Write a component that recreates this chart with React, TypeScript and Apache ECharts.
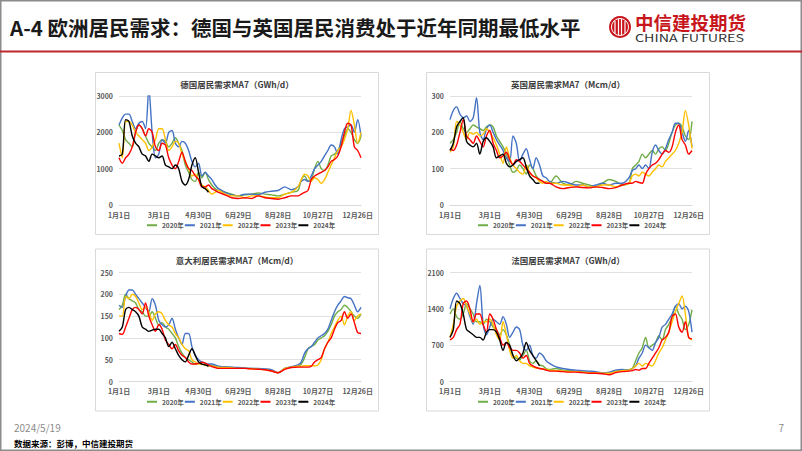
import React, { useEffect, useRef } from "react";
import * as echarts from "echarts";

const FONT = "'Noto Sans CJK SC', 'Noto Sans', sans-serif";

// sample days (index into 2020 calendar, 0 = 1月1日)
const DAYS = [0,5,10,15,20,25,30,35,40,45,50,55,60,65,70,75,80,85,90,95,100,105,110,115,120,125,130,135,140,145,150,
  160,170,180,190,200,210,220,230,240,250,260,
  270,275,280,285,290,295,300,305,310,315,320,325,330,335,340,345,350,355,360,365];

const YEARS = ["2020年", "2021年", "2022年", "2023年", "2024年"];
const COLORS = ["#70AD47", "#4472C4", "#FFC000", "#FF0000", "#000000"];

// 德国 GWh/d
const DE_2020 = [2200,2050,1800,1700,1600,2000,2200,2100,1900,1700,1600,1500,1700,1800,1750,1600,1700,1850,1700,1500,1100,900,700,650,900,750,900,700,550,450,400,
  350,300,250,280,300,330,300,280,250,300,350,
  400,700,800,650,700,1000,1200,1000,950,1100,1350,1400,1500,1700,1900,2100,2000,1800,1700,1900];
const DE_2021 = [2200,2400,2500,2500,2300,2100,2250,2300,2100,3200,2000,1300,1400,1800,1700,2000,2050,1700,1600,1750,1700,1500,1200,1050,1150,800,900,800,700,550,450,
  350,280,250,300,300,280,350,380,400,500,420,
  500,650,700,650,800,1000,1100,1200,1350,1500,1650,1600,1400,1800,2100,2150,2200,2000,2350,1900];
const DE_2022 = [1700,1300,2300,2300,2200,2000,1900,1800,1700,1500,1600,1800,2100,2100,1800,1500,1600,1750,1700,1400,1200,1000,800,850,700,550,500,400,300,350,400,
  300,250,250,200,250,250,220,200,200,300,350,
  500,700,850,800,650,750,700,600,700,900,1100,1300,1500,1600,1800,2100,2600,2200,1700,2000];
const DE_2023 = [1300,1150,1300,1400,1600,2000,2200,2100,1900,2100,2000,1600,1500,1700,1650,1300,1100,1000,1200,1450,1200,1000,950,800,700,500,500,550,450,400,350,
  280,200,180,200,180,250,200,180,160,200,250,
  250,300,350,400,700,800,850,900,950,1050,1200,1250,1350,1600,2000,2250,2200,1600,1500,1300];
const DE_2024 = [1350,1400,2350,2300,1900,1700,1600,1400,1350,1200,1400,1350,1300,1350,1100,1050,1000,1100,1000,650,550,700,1100,1300,900,500,450,350];

// 英国 Mcm/d
const UK_2020 = [170,180,200,230,210,200,210,220,215,210,205,215,220,215,190,175,160,140,110,90,95,110,100,85,110,100,80,70,65,60,60,
  80,60,55,65,60,55,50,60,70,65,55,
  60,100,110,120,140,130,140,150,140,155,160,150,170,200,220,225,215,190,180,230];
const UK_2021 = [235,260,270,250,240,245,230,240,295,200,180,210,220,200,180,165,150,130,120,190,170,120,140,155,125,100,130,110,80,75,65,
  60,65,60,55,55,50,55,60,55,60,60,
  75,95,100,110,100,110,100,145,165,150,140,155,180,200,225,225,200,175,205,160];
const UK_2022 = [145,160,230,220,200,180,200,195,200,190,195,210,200,185,165,140,115,160,130,110,100,90,85,110,90,80,75,65,60,65,60,
  60,55,55,50,55,50,50,55,55,50,55,
  60,80,85,80,90,85,80,90,100,110,105,120,130,140,150,170,200,260,220,155];
const UK_2023 = [155,150,165,200,235,190,180,170,190,175,160,190,205,170,150,130,135,145,125,110,125,120,110,100,90,80,75,70,65,60,60,
  50,45,48,50,48,47,50,48,45,48,55,
  60,60,65,62,60,85,100,110,115,125,140,150,145,160,200,220,180,165,140,150];
const UK_2024 = [150,170,215,230,240,175,165,160,170,140,175,185,175,160,130,135,140,115,105,110,120,125,130,105,80,70,60,60];

// 意大利 Mcm/d
const IT_2020 = [165,175,200,190,185,180,165,160,150,150,160,145,130,135,125,120,110,100,80,65,55,50,45,40,42,40,38,38,36,35,33,
  33,32,31,30,30,29,28,25,20,30,33,
  35,40,55,75,80,85,95,100,105,115,130,150,160,165,175,170,160,150,145,155];
const IT_2021 = [175,170,195,210,210,200,190,180,170,160,190,175,140,130,125,130,145,120,100,85,110,110,80,60,50,45,42,40,40,38,35,
  34,33,32,31,30,30,29,27,20,30,34,
  38,45,65,75,80,90,100,105,110,120,140,160,175,185,195,192,190,175,160,170];
const IT_2022 = [150,150,195,190,200,195,180,165,170,160,140,155,160,155,140,130,125,110,100,85,75,70,50,45,40,40,38,36,35,34,33,
  32,31,30,30,29,28,27,24,20,30,33,
  35,35,36,36,36,36,38,50,75,90,110,125,140,150,130,150,160,140,150,155];
const IT_2023 = [110,108,125,145,165,170,165,155,180,150,130,115,130,120,95,85,75,85,70,60,55,45,40,40,42,44,42,38,34,32,30,
  30,30,30,30,29,28,27,24,20,28,32,
  33,33,33,33,35,45,50,55,75,90,100,120,135,140,160,145,155,135,112,110];
const IT_2024 = [115,125,165,170,165,160,150,125,120,115,118,120,120,110,100,80,90,75,60,50,45,60,75,60,45,40,38,35];

// 法国 GWh/d
const FR_2020 = [1300,1400,1250,1200,1300,1500,1400,1300,1150,1150,1100,1200,1150,1050,1000,900,1000,900,700,500,450,420,500,600,400,350,400,320,300,250,230,
  250,220,210,200,190,180,170,160,170,200,210,
  230,250,400,550,650,850,650,700,750,880,800,1000,1100,1250,1450,1300,1200,1000,1100,1380];
const FR_2021 = [1400,1600,1700,1600,1500,1450,1250,1100,1500,1850,1100,900,1050,1200,1150,1100,1250,1100,850,950,1050,1000,700,600,700,500,450,550,500,400,350,
  280,250,230,220,210,200,190,170,180,220,230,
  220,250,300,450,550,700,650,600,750,850,1050,1100,1200,1300,1450,1500,1400,1450,1350,950];
const FR_2022 = [850,1100,1450,1550,1600,1450,1300,1150,1200,1100,1150,1150,1200,1100,900,800,1150,900,600,450,500,400,350,350,300,280,260,250,240,230,220,
  210,200,190,190,180,170,165,160,160,190,210,
  220,250,300,350,300,350,320,300,400,550,650,800,950,1150,1350,1500,1650,1300,850,800];
const FR_2023 = [800,850,1000,1100,1500,1550,1400,1150,1300,1300,1100,950,1300,1200,1000,850,700,750,650,600,600,550,450,500,350,300,270,250,240,220,200,
  200,190,180,180,170,160,160,150,130,170,190,
  200,210,230,220,250,250,350,450,550,650,800,850,950,1250,1300,1050,950,1150,850,820];
const FR_2024 = [850,1000,1550,1500,1300,1000,950,900,850,850,800,950,1000,1000,950,800,600,750,700,500,400,450,550,750,600,500,400,300];

// x categories: calendar of 2020 (366 days)
const DATES: string[] = [];
for (let i = 0; i < 366; i++) {
  const d = new Date(2020, 0, 1 + i);
  DATES.push(`${d.getMonth() + 1}月${d.getDate()}日`);
}

const CHARTS = [
  { title: "德国居民需求MA7（GWh/d）", max: 3000, interval: 1000, data: [DE_2020, DE_2021, DE_2022, DE_2023, DE_2024], dx: 0, dy: 0 },
  { title: "英国居民需求MA7（Mcm/d）", max: 300, interval: 100, data: [UK_2020, UK_2021, UK_2022, UK_2023, UK_2024], dx: 331, dy: 0 },
  { title: "意大利居民需求MA7（Mcm/d）", max: 250, interval: 50, data: [IT_2020, IT_2021, IT_2022, IT_2023, IT_2024], dx: 0, dy: 176.5 },
  { title: "法国居民需求MA7（GWh/d）", max: 2100, interval: 700, data: [FR_2020, FR_2021, FR_2022, FR_2023, FR_2024], dx: 331, dy: 176.5 },
];

export default function App() {
  const ref = useRef<HTMLDivElement>(null);
  useEffect(() => {
    if (!ref.current) return;
    const chart = echarts.init(ref.current, undefined, { renderer: "svg" });

    const series: any[] = [];
    CHARTS.forEach((c, i) => {
      c.data.forEach((vals, j) => {
        series.push({
          type: "line",
          name: YEARS[j],
          xAxisIndex: i,
          yAxisIndex: i,
          data: vals.map((v, k) => [DAYS[k], v]),
          smooth: 0.3,
          symbol: "none",
          showSymbol: false,
          clip: true,
          lineStyle: { color: COLORS[j], width: 1.4 },
          itemStyle: { color: COLORS[j] },
          z: 2 + j,
        });
      });
    });

    const graphics: any[] = [
      { type: "rect", shape: { x: 0.75, y: 0.75, width: 800.5, height: 449.5 }, style: { fill: "transparent", stroke: "#8c8c8c", lineWidth: 1.5 } },
      { type: "text", x: 10, y: 27, style: { text: "A-4 欧洲居民需求：德国与英国居民消费处于近年同期最低水平", font: `bold 20.5px ${FONT}`, fill: "#1a1a1a", verticalAlign: "middle" } },
      { type: "rect", shape: { x: 0, y: 50.5, width: 802, height: 2 }, style: { fill: "#c0272d" } },
      // logo
      { type: "circle", shape: { cx: 620, cy: 27, r: 11 }, style: { fill: "#c8161d" } },
      { type: "circle", shape: { cx: 620, cy: 27, r: 8.5 }, style: { fill: "transparent", stroke: "#fff", lineWidth: 1 } },
      { type: "line", shape: { x1: 615, y1: 21, x2: 615, y2: 34 }, style: { stroke: "#fff", lineWidth: 1.2 } },
      { type: "line", shape: { x1: 618.5, y1: 19, x2: 618.5, y2: 35 }, style: { stroke: "#fff", lineWidth: 1.2 } },
      { type: "line", shape: { x1: 621.5, y1: 19, x2: 621.5, y2: 35 }, style: { stroke: "#fff", lineWidth: 1.2 } },
      { type: "line", shape: { x1: 625, y1: 21, x2: 625, y2: 34 }, style: { stroke: "#fff", lineWidth: 1.2 } },
      { type: "text", x: 635, y: 21.5, style: { text: "中信建投期货", font: `bold 18.5px ${FONT}`, fill: "#c8161d", verticalAlign: "middle" } },
      { type: "text", x: 635, y: 37.5, scaleX: 1.3, style: { text: "CHINA FUTURES", font: `11px ${FONT}`, fill: "#333333", verticalAlign: "middle" } },
      // footer
      { type: "text", x: 14, y: 427, style: { text: "2024/5/19", font: `10px ${FONT}`, fill: "#8c8c8c", verticalAlign: "middle" } },
      { type: "text", x: 784, y: 427, style: { text: "7", font: `10px ${FONT}`, fill: "#8c8c8c", verticalAlign: "middle", align: "right" } },
      { type: "text", x: 14, y: 443, style: { text: "数据来源：彭博，中信建投期货", font: `bold 8.5px ${FONT}`, fill: "#000", verticalAlign: "middle" } },
    ];
    CHARTS.forEach((c) => {
      graphics.push({ type: "rect", shape: { x: 95.5 + c.dx, y: 72.5 + c.dy, width: 283, height: 162 }, style: { fill: "transparent", stroke: "#d9d9d9", lineWidth: 1 } });
      graphics.push({ type: "text", x: 237 + c.dx, y: 83.5 + c.dy, style: { text: c.title, font: `bold 8.5px ${FONT}`, fill: "#404040", align: "center", verticalAlign: "middle" } });
    });

    chart.setOption({
      animation: false,
      backgroundColor: "#ffffff",
      textStyle: { fontFamily: FONT },
      grid: CHARTS.map((c) => ({ left: 119 + c.dx, top: 96 + c.dy, width: 242, height: 109 })),
      xAxis: CHARTS.map((c, i) => ({
        type: "category",
        gridIndex: i,
        data: DATES,
        boundaryGap: false,
        axisTick: { show: false },
        axisLine: { lineStyle: { color: "#d9d9d9", width: 1 } },
        splitLine: { show: false },
        axisLabel: { interval: 59, fontSize: 7, fontWeight: "bold", color: "#595959", margin: 6, fontFamily: FONT },
      })),
      yAxis: CHARTS.map((c, i) => ({
        type: "value",
        gridIndex: i,
        min: 0,
        max: c.max,
        interval: c.interval,
        axisLine: { show: false },
        axisTick: { show: false },
        splitLine: { lineStyle: { color: "#d9d9d9", width: 0.8 } },
        axisLabel: { fontSize: 7, fontWeight: "bold", color: "#595959", margin: 6, fontFamily: FONT, formatter: (v: number) => String(v) },
      })),
      legend: CHARTS.map((c) => ({
        left: 147 + c.dx,
        top: 222 + c.dy,
        padding: 0,
        icon: "rect",
        itemWidth: 10,
        itemHeight: 2,
        itemGap: 1,
        data: YEARS,
        textStyle: { fontSize: 6.5, fontWeight: "bold", color: "#595959", fontFamily: FONT },
      })),
      series,
      graphic: { elements: graphics },
    });

    return () => chart.dispose();
  }, []);

  return (
    <div style={{ position: "absolute", left: 0, top: 0, width: 802, height: 451, background: "#fff" }}>
      <div ref={ref} style={{ width: 802, height: 451 }} />
    </div>
  );
}
